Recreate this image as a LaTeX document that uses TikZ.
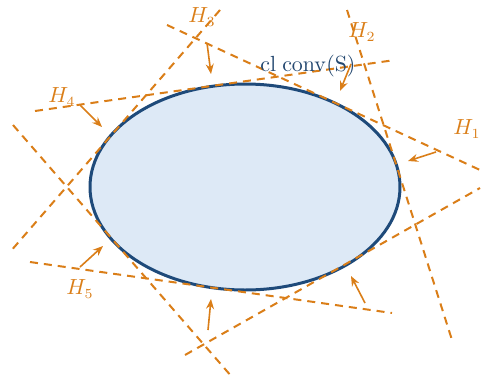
\documentclass[tikz,border=0pt]{standalone}
\usetikzlibrary{arrows.meta}
\definecolor{hor}{RGB}{218,126,24}
\definecolor{edge}{RGB}{30,74,122}
\definecolor{fillb}{RGB}{221,233,246}
\definecolor{txtb}{RGB}{36,72,112}
\begin{document}
\begin{tikzpicture}[x=0.5pt,y=-0.5pt,
  hline/.style={draw=hor,line width=1pt,dash pattern=on 4pt off 3pt},
  harrow/.style={draw=hor,line width=0.8pt,-{Stealth[length=5pt,width=4pt]}},
  hlabel/.style={text=hor,inner sep=0pt,font=\fontsize{10.5}{12}\selectfont},
  setbody/.style={draw=edge,line width=1.5pt,fill=fillb}]
\useasboundingbox (0,0) rectangle (481,380);
% set
\path[setbody] (245,187) ellipse [x radius=155, y radius=103];
% line endpoints
\coordinate (a1) at (167,25);  \coordinate (a2) at (480,170);
\coordinate (b1) at (347,10);  \coordinate (b2) at (452,340);
\coordinate (c1) at (220,10);  \coordinate (c2) at (10,252);
\coordinate (d1) at (35,111);  \coordinate (d2) at (395,60);
\coordinate (e1) at (13,125);  \coordinate (e2) at (232,377);
\coordinate (f1) at (30,262);  \coordinate (f2) at (392,313);
\coordinate (g1) at (185,355); \coordinate (g2) at (480,188);
\draw[hline] (a1) -- (a2);
\draw[hline] (b1) -- (b2);
\draw[hline] (c1) -- (c2);
\draw[hline] (d1) -- (d2);
\draw[hline] (e1) -- (e2);
\draw[hline] (f1) -- (f2);
\draw[hline] (g1) -- (g2);
% arrows
\coordinate (p1) at (436,152); \coordinate (q1) at (408,161);
\coordinate (p2) at (351,64);  \coordinate (q2) at (340,91);
\coordinate (p3) at (207,43);  \coordinate (q3) at (211,74);
\coordinate (p4) at (80,105);  \coordinate (q4) at (102,127);
\coordinate (p5) at (80,267);  \coordinate (q5) at (103,246);
\coordinate (p6) at (208,330); \coordinate (q6) at (211,299);
\coordinate (p7) at (365,303); \coordinate (q7) at (351,276);
\draw[harrow] (p1) -- (q1);
\draw[harrow] (p2) -- (q2);
\draw[harrow] (p3) -- (q3);
\draw[harrow] (p4) -- (q4);
\draw[harrow] (p5) -- (q5);
\draw[harrow] (p6) -- (q6);
\draw[harrow] (p7) -- (q7);
% labels
\node[hlabel] (l1) at (467,129) {$H_1$};
\node[hlabel] (l2) at (362,32) {$H_2$};
\node[hlabel] (l3) at (202,17) {$H_3$};
\node[hlabel] (l4) at (62,97) {$H_4$};
\node[hlabel] (l5) at (80,289) {$H_5$};
\node[text=txtb,inner sep=0pt,font=\fontsize{10.8}{13}\selectfont] (s) at (308,66) {$\mathrm{cl}\;\mathrm{conv}(\mathrm{S})$};
\end{tikzpicture}
\end{document}
